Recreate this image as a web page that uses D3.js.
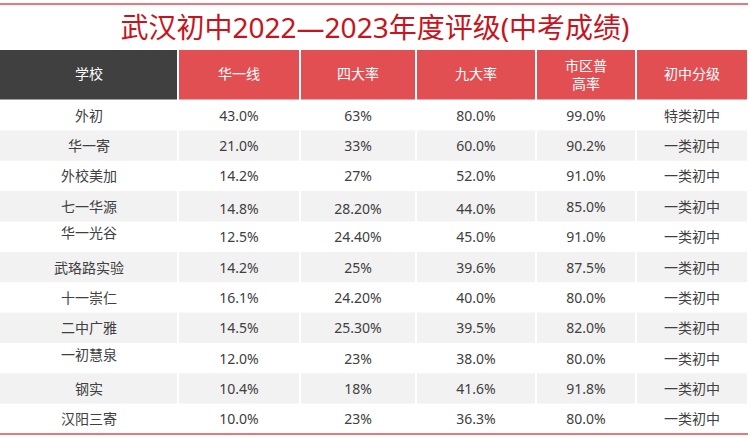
<!DOCTYPE html>
<html>
<head>
<meta charset="utf-8">
<script src="https://cdn.jsdelivr.net/npm/d3@7"></script>
<style>
  html, body { margin: 0; padding: 0; background: #fff; }
  svg { display: block; }
  text { font-family: "Noto Sans", "Noto Sans CJK SC", sans-serif; }
</style>
</head>
<body>
<svg id="chart" width="750" height="438"></svg>
<script>
// ---- data ----
const title = "武汉初中2022—2023年度评级(中考成绩)";
const headers = ["学校", "华一线", "四大率", "九大率", "市区普\n高率", "初中分级"];
const schools = ["外初", "华一寄", "外校美加", "七一华源", "华一光谷", "武珞路实验", "十一崇仁", "二中广雅", "一初慧泉", "钢实", "汉阳三寄"];
const huayiLine = ["43.0%", "21.0%", "14.2%", "14.8%", "12.5%", "14.2%", "16.1%", "14.5%", "12.0%", "10.4%", "10.0%"];
const fourRate = ["63%", "33%", "27%", "28.20%", "24.40%", "25%", "24.20%", "25.30%", "23%", "18%", "23%"];
const nineRate = ["80.0%", "60.0%", "52.0%", "44.0%", "45.0%", "39.6%", "40.0%", "39.5%", "38.0%", "41.6%", "36.3%"];
const cityHighRate = ["99.0%", "90.2%", "91.0%", "85.0%", "91.0%", "87.5%", "80.0%", "82.0%", "80.0%", "91.8%", "80.0%"];
const grades = ["特类初中", "一类初中", "一类初中", "一类初中", "一类初中", "一类初中", "一类初中", "一类初中", "一类初中", "一类初中", "一类初中"];

// ---- layout ----
const colWidths = [178, 122, 116, 120, 100, 112];
const W = 750;
const headerTop = 50, headerBottom = 99.5;
const bodyTop = 100, bodyBottom = 434;
const red = "#e24f53", dark = "#404040", stripe = "#f2f2f2", textColor = "#404040";
// small vertical nudges seen in the original (row, col, dy)
const nudges = [[3, 1, 2.5], [3, 2, 2.5], [3, 3, 2.5], [4, 0, -4], [8, 0, -4]];

const svg = d3.select("#chart");

const colEdges = d3.cumsum([0, ...colWidths]);
const cols = d3.range(headers.length);
const x0 = d3.scaleOrdinal().domain(cols).range(colEdges.slice(0, -1));
const xw = d3.scaleOrdinal().domain(cols).range(colWidths);
const y = d3.scaleBand().domain(d3.range(schools.length)).range([bodyTop, bodyBottom]).padding(0);

const columnsData = [schools, huayiLine, fourRate, nineRate, cityHighRate, grades];

// top red line
svg.append("line").attr("x1", 0).attr("x2", 748).attr("y1", 4).attr("y2", 4)
  .attr("stroke", "#e24a50").attr("stroke-width", 1.5);

// title
svg.append("text").attr("x", 375).attr("y", 27)
  .attr("text-anchor", "middle").attr("dominant-baseline", "central")
  .attr("font-size", 28).attr("fill", "#c8141c").text(title);

// header cells
const hdr = svg.append("g");
hdr.selectAll("rect").data(cols).join("rect")
  .attr("x", c => x0(c) + (c === 0 ? 0 : 1))
  .attr("y", headerTop)
  .attr("width", c => xw(c) - (c === 0 ? 1 : 2))
  .attr("height", headerBottom - headerTop)
  .attr("fill", c => c === 0 ? dark : red);

hdr.selectAll("text").data(cols).join("text")
  .attr("x", c => x0(c) + xw(c) / 2)
  .attr("y", (headerTop + headerBottom) / 2 - 1)
  .attr("text-anchor", "middle").attr("dominant-baseline", "central")
  .attr("font-size", 14).attr("fill", "#fff")
  .each(function (c) {
    const lines = headers[c].split("\n");
    const t = d3.select(this);
    if (lines.length === 1) { t.text(lines[0]); return; }
    lines.forEach((l, i) => {
      t.append("tspan").attr("x", x0(c) + xw(c) / 2)
        .attr("y", (headerTop + headerBottom) / 2 - 1 + (i - (lines.length - 1) / 2) * 18)
        .text(l);
    });
  });

// body stripes
const body = svg.append("g");
const cells = [];
schools.forEach((s, r) => cols.forEach(c => cells.push({ r, c, v: columnsData[c][r] })));

body.selectAll("rect").data(cells.filter(d => d.r % 2 === 1)).join("rect")
  .attr("x", d => x0(d.c) + (d.c === 0 ? 0 : 1))
  .attr("y", d => y(d.r))
  .attr("width", d => xw(d.c) - (d.c === 0 ? 1 : 2))
  .attr("height", y.bandwidth())
  .attr("fill", stripe);

const nudge = (r, c) => { const n = nudges.find(n => n[0] === r && n[1] === c); return n ? n[2] : 0; };

body.selectAll("text").data(cells).join("text")
  .attr("x", d => x0(d.c) + xw(d.c) / 2)
  .attr("y", d => y(d.r) + y.bandwidth() / 2 + nudge(d.r, d.c))
  .attr("text-anchor", "middle").attr("dominant-baseline", "central")
  .attr("font-size", 14).attr("fill", textColor)
  .text(d => d.v);

// bottom red line
svg.append("line").attr("x1", 0).attr("x2", 748).attr("y1", bodyBottom).attr("y2", bodyBottom)
  .attr("stroke", "#e24a50").attr("stroke-width", 1.5);
</script>
</body>
</html>
